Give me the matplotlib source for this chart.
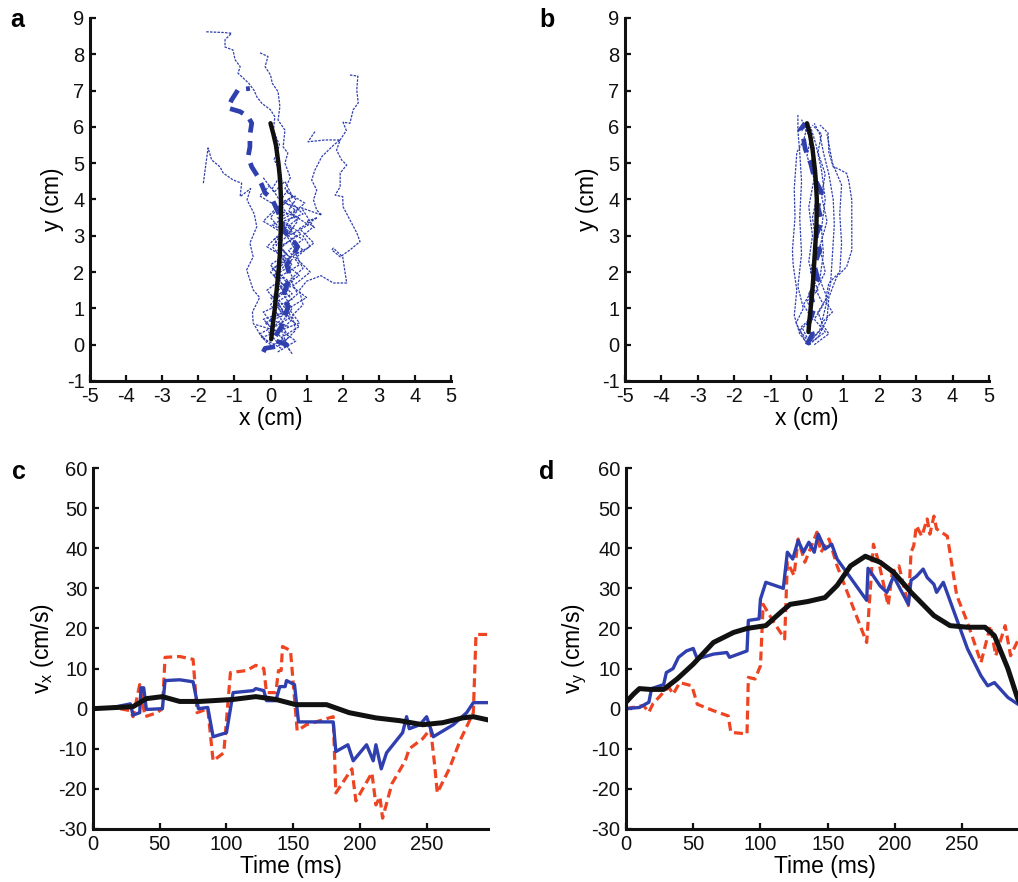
import matplotlib
matplotlib.use("Agg")
import matplotlib.pyplot as plt

plt.rcParams['font.family'] = ['Liberation Sans', 'DejaVu Sans']
plt.rcParams['mathtext.default'] = 'regular'
plt.rcParams['axes.unicode_minus'] = False

BLUE = '#2f3fae'
RED = '#ee4422'
BLACK = '#111111'

# ---- panel a: hand trajectories (x, y in cm) ----
a_trial_1 = [(-1.78, 8.62), (-1.3, 8.6), (-1.08, 8.58), (-1.26, 8.4), (-1.26, 8.2), (-1.04, 8.12),
             (-0.98, 7.85), (-0.84, 7.66), (-0.9, 7.48), (-0.76, 7.35), (-0.6, 7.2), (-0.45, 7.0),
             (-0.38, 6.83), (-0.24, 6.65), (0.0, 6.47), (0.12, 6.28), (0.08, 5.9), (0.25, 5.5),
             (0.1, 5.1), (0.3, 4.7), (0.05, 4.3), (0.3, 3.9), (0.0, 3.5), (0.35, 3.1), (0.05, 2.7),
             (0.4, 2.3), (0.1, 1.9), (0.35, 1.5), (0.0, 1.1), (0.3, 0.7), (-0.05, 0.35), (0.2, 0.05)]
a_trial_2 = [(-0.29, 8.04), (-0.07, 7.94), (-0.15, 7.66), (0.0, 7.43), (0.05, 7.2), (0.21, 6.97),
             (0.26, 6.56), (0.21, 6.19), (0.40, 5.91), (0.35, 5.45), (0.48, 5.28), (0.40, 5.0),
             (0.55, 4.6), (0.4, 4.3), (0.7, 4.0), (0.5, 3.7), (0.75, 3.4), (0.45, 3.0), (0.7, 2.6),
             (0.4, 2.2), (0.65, 1.8), (0.35, 1.4), (0.6, 1.0), (0.3, 0.6), (0.5, 0.2), (0.2, -0.05)]
a_trial_3 = [(2.2, 7.43), (2.42, 7.4), (2.39, 7.02), (2.43, 6.66), (2.29, 6.47), (2.2, 6.1),
             (2.01, 6.13), (2.1, 5.9), (1.93, 5.64), (1.83, 5.36), (1.97, 5.09), (2.11, 4.95),
             (1.93, 4.73), (1.93, 4.35), (1.79, 4.12), (2.0, 4.08), (2.01, 3.8), (2.2, 3.44),
             (2.39, 3.08), (2.48, 2.84), (2.2, 2.61), (1.93, 2.42), (1.7, 2.61), (1.74, 2.66),
             (2.0, 2.42), (2.11, 1.7), (1.74, 1.7), (1.4, 1.9), (1.0, 1.75), (0.8, 1.5), (0.9, 1.1),
             (0.6, 0.8), (0.7, 0.4), (0.4, 0.1), (0.55, -0.2)]
a_trial_4 = [(1.23, 5.87), (1.04, 5.59), (1.51, 5.64), (1.93, 5.64), (1.75, 5.5), (1.42, 5.18),
             (1.23, 4.81), (1.14, 4.54), (1.28, 4.26), (1.19, 3.99), (1.28, 3.71), (1.42, 3.57),
             (0.86, 3.77), (1.19, 3.25), (0.9, 3.0), (1.1, 2.7), (0.7, 2.5), (0.9, 2.1), (0.55, 1.8),
             (0.75, 1.4), (0.4, 1.1), (0.6, 0.7), (0.3, 0.4), (0.45, 0.0)]
a_trial_5 = [(-1.86, 4.45), (-1.73, 5.42), (-1.63, 5.09), (-1.4, 4.9), (-1.31, 4.73), (-1.04, 4.54),
             (-0.8, 4.45), (-0.84, 4.08), (-0.55, 4.3), (-0.65, 3.99), (-0.45, 3.6), (-0.38, 3.25),
             (-0.57, 2.8), (-0.48, 2.42), (-0.66, 2.06), (-0.48, 1.51), (-0.3, 1.3), (-0.5, 0.9),
             (-0.48, 0.6), (-0.3, 0.3), (-0.1, 0.05)]
a_trial_6 = [(0.0, 0.0), (-0.3, 0.3), (0.1, 0.5), (-0.2, 0.9), (0.25, 1.1), (-0.1, 1.5), (0.3, 1.8),
             (0.0, 2.2), (0.45, 2.5), (0.1, 2.9), (0.6, 3.2), (0.2, 3.5), (0.7, 3.7), (0.3, 4.0), (0.5, 4.3)]
a_trial_7 = [(0.2, -0.2), (0.7, 0.1), (0.3, 0.4), (0.8, 0.6), (0.5, 1.0), (1.0, 1.3), (0.6, 1.6),
             (1.1, 2.0), (0.7, 2.4), (1.2, 2.8), (0.8, 3.2), (1.3, 3.5), (1.0, 3.4), (1.25, 3.2)]
a_trial_8 = [(-0.4, 0.55), (0.1, 0.4), (-0.2, 0.7), (0.4, 0.9), (0.0, 1.3), (0.5, 1.5), (0.1, 1.9),
             (0.6, 2.2), (0.2, 2.6), (0.7, 3.0), (0.35, 3.4), (0.9, 3.6), (0.5, 4.0)]
a_trial_9 = [(0.6, -0.25), (0.3, 0.2), (0.8, 0.5), (0.4, 0.8), (0.2, 1.2), (0.6, 1.4), (0.3, 1.7),
             (0.0, 2.0), (0.4, 2.4), (-0.1, 2.7), (0.3, 3.1), (-0.2, 3.4), (0.2, 3.8), (-0.3, 4.1), (0.0, 4.4)]
a_trial_10 = [(-0.2, 4.6), (0.1, 4.2), (0.4, 4.5), (0.6, 4.1), (0.2, 3.7), (0.8, 3.5), (0.4, 3.2),
              (0.9, 2.9), (0.5, 2.6), (0.8, 2.2), (0.3, 1.9)]
a_trial_11 = [(-0.1, -0.1), (0.35, 0.15), (0.05, 0.45), (0.55, 0.75), (0.15, 1.05), (0.6, 1.25),
              (0.25, 1.6), (0.8, 1.9), (0.35, 2.3), (0.9, 2.6), (0.5, 3.0), (1.05, 3.3), (0.6, 3.6),
              (0.95, 3.9), (0.45, 4.2)]
a_trial_12 = [(0.3, -0.1), (-0.25, 0.2), (0.2, 0.35), (-0.15, 0.6), (0.35, 0.8), (0.1, 1.2),
              (0.55, 1.6), (0.2, 2.0), (0.6, 2.35), (0.15, 2.75), (0.55, 3.05), (0.05, 3.3),
              (0.5, 3.55), (0.25, 3.9), (0.7, 4.1)]
a_trial_13 = [(0.5, 0.5), (0.0, 0.7), (0.45, 0.95), (0.1, 1.4), (0.5, 1.75), (0.05, 2.1), (0.55, 2.4),
              (0.25, 2.7), (0.85, 3.05), (0.45, 3.35), (0.8, 3.75), (0.3, 3.95)]
a_highlight = [(-0.2, -0.2), (-0.15, -0.1), (0.45, 0.0), (0.07, 0.13), (0.3, 0.5), (0.49, 1.05),
               (0.35, 1.3), (0.4, 1.5), (0.54, 1.87), (0.45, 2.2), (0.65, 2.5), (0.75, 2.7),
               (0.68, 2.8), (0.4, 3.1), (0.22, 3.63), (0.03, 4.04), (-0.15, 4.18), (-0.24, 4.4),
               (-0.35, 4.63), (-0.52, 4.9), (-0.62, 5.18), (-0.57, 5.45), (-0.57, 5.78), (-0.52, 6.1),
               (-0.62, 6.28), (-0.84, 6.42), (-1.18, 6.52), (-1.08, 6.74), (-0.9, 7.02), (-0.57, 7.06)]
a_mean = [(0.02, 0.15), (0.07, 0.6), (0.12, 1.0), (0.17, 1.5), (0.22, 2.0), (0.26, 2.5), (0.28, 3.0),
          (0.29, 3.5), (0.29, 4.0), (0.27, 4.5), (0.22, 5.0), (0.15, 5.5), (0.08, 5.8), (0.0, 6.1)]

# ---- panel b ----
b_trial_1 = [(0.0, 0.05), (-0.2, 0.3), (-0.35, 0.8), (-0.28, 1.5), (-0.38, 2.2), (-0.4, 2.6),
             (-0.33, 3.5), (-0.35, 4.3), (-0.3, 5.0), (-0.28, 5.3), (-0.1, 5.6), (0.0, 6.0)]
b_trial_2 = [(0.05, 0.0), (0.3, 0.2), (0.55, 0.7), (0.6, 1.3), (0.75, 1.7), (0.82, 1.87), (1.09, 2.15),
             (1.23, 2.6), (1.23, 3.3), (1.23, 3.99), (1.15, 4.5), (1.09, 4.72), (0.85, 4.85),
             (0.72, 4.9), (0.6, 5.3), (0.58, 5.83), (0.36, 6.05)]
b_trial_3 = [(0.0, 0.0), (0.35, 0.4), (0.5, 1.0), (0.65, 1.7), (0.7, 2.5), (0.75, 3.3), (0.72, 4.0),
             (0.6, 4.7), (0.45, 5.3), (0.35, 5.8), (0.2, 6.1)]
b_trial_4 = [(-0.05, 0.1), (-0.3, 0.6), (-0.1, 1.0), (-0.25, 1.6), (-0.15, 2.5), (-0.2, 3.5),
             (-0.15, 4.5), (-0.2, 5.3), (-0.25, 5.9), (-0.25, 6.33)]
b_trial_5 = [(0.1, 0.1), (0.45, 0.5), (0.3, 0.9), (0.55, 1.3), (0.35, 1.8), (0.45, 2.5), (0.4, 3.2),
             (0.5, 4.0), (0.4, 4.8), (0.25, 5.5), (0.1, 6.0)]
b_trial_6 = [(0.0, 0.2), (-0.15, 0.5), (0.2, 0.8), (0.0, 1.2), (0.3, 1.5), (0.1, 2.0), (0.25, 2.8),
             (0.15, 3.5), (0.3, 4.2), (0.1, 4.9), (0.2, 5.4), (0.05, 5.8), (-0.15, 6.2)]
b_trial_7 = [(0.2, 0.0), (0.6, 0.3), (0.4, 0.6), (0.7, 0.9), (0.5, 1.2), (0.6, 1.7), (0.9, 2.0),
             (0.95, 2.8), (0.9, 3.6), (0.95, 4.4), (0.7, 5.0), (0.55, 5.8)]
b_trial_8 = [(0.1, 0.0), (-0.2, 0.4), (0.15, 0.7), (-0.1, 1.1), (0.2, 1.6), (0.05, 2.3), (0.15, 3.0),
             (0.05, 3.8), (0.2, 4.6), (0.0, 5.2), (0.1, 5.7), (-0.1, 6.0)]
b_trial_9 = [(0.15, 0.1), (0.5, 0.35), (0.2, 0.7), (0.45, 1.1), (0.25, 1.5), (0.5, 2.0), (0.35, 2.7),
             (0.55, 3.4), (0.4, 4.1), (0.5, 4.7), (0.3, 5.3), (0.4, 5.8), (0.15, 6.05)]
b_highlight = [(0.0, 0.0), (0.15, 0.3), (0.05, 0.6), (0.2, 1.0), (0.1, 1.4), (0.3, 1.8), (0.2, 2.2),
               (0.35, 2.6), (0.25, 3.0), (0.4, 3.4), (0.3, 3.8), (0.4, 4.2), (0.2, 4.6), (0.1, 5.0),
               (-0.05, 5.4), (-0.1, 5.7), (-0.2, 5.9), (-0.05, 6.1)]
b_mean = [(0.04, 0.35), (0.07, 0.7), (0.1, 1.0), (0.14, 1.4), (0.17, 1.8), (0.22, 2.6), (0.26, 3.3),
          (0.27, 4.0), (0.25, 4.4), (0.22, 4.8), (0.15, 5.4), (0.08, 5.8), (0.0, 6.1)]

# ---- panel c: v_x (cm/s) vs time (ms) ----
c_blue_t = [0, 15, 28, 30, 35, 36, 38, 40, 52, 54, 65, 75, 79, 86, 90, 95, 100, 105, 120, 122,
            128, 130, 137, 140, 144, 145, 151, 154, 180, 182, 191, 195, 205, 210, 212, 216, 220, 232, 235, 237,
            245, 250, 255, 270, 280, 285, 296]
c_blue_v = [0, 0.3, 1.2, -1.6, -1.0, 5.2, 5.2, -0.2, 0, 7, 7.2, 6.7, 0, 0.3, -7, -6.5, -6, 4, 4.5, 5,
            4.5, 2, 2, 5.5, 5.5, 7, 6, -3.3, -3.3, -10.7, -9, -13, -9, -13, -9, -15, -11, -6, -2, -5,
            -4, -2, -7, -4, -1, 1.5, 1.5]
c_red_t = [0, 15, 28, 30, 35, 39, 48, 52, 54, 65, 75, 78, 86, 90, 98, 103, 115, 122, 128, 130,
           137, 139, 141, 142, 148, 153, 160, 180, 182, 194, 197, 209, 212, 215, 217, 224, 234, 237, 247, 253,
           256, 258, 267, 275, 285, 287, 296]
c_red_v = [0, 0.3, -0.5, -2, 6, -2, -1, 0, 12.8, 13, 12.3, -1, 0, -13, -11, 9, 9.5, 10.8, 10, 4,
           4, 9.5, 9.5, 15.5, 14.5, -5.5, -4, -2, -21, -15, -23, -16, -24, -22, -27.3, -18.7, -13, -10, -7.5, -5,
           -14, -21, -15, -8, -1, 18.5, 18.5]
c_black_t = [0, 30, 40, 52, 65, 80, 105, 122, 137, 152, 175, 192, 212, 230, 247, 262, 277, 285, 296]
c_black_v = [0, 0.5, 2.5, 3, 1.8, 1.8, 2.3, 3, 2.3, 1, 1, -1, -2.3, -3, -4, -3.5, -2.3, -2, -2.8]

# ---- panel d: v_y (cm/s) vs time (ms) ----
d_blue_t = [0, 10, 17, 19, 28, 30, 35, 39, 45, 50, 53, 65, 75, 77, 90, 91, 99, 100, 104, 117,
            120, 124, 128, 132, 136, 140, 143, 148, 153, 157, 179, 180, 189, 194, 199, 204, 210, 212, 216, 221,
            224, 229, 231, 236, 254, 264, 269, 274, 284, 292, 296]
d_blue_v = [0, 0.3, 1.6, 5, 6, 9, 10, 12.8, 14.4, 15, 12.4, 13.6, 14, 12.8, 14.4, 22, 22.4, 27.3, 31.5, 30,
            39, 37.3, 41.9, 39, 41.5, 39, 43.5, 39.8, 41, 37.3, 27, 35, 30.6, 29, 33, 29.8, 26, 32, 33, 34.8,
            32.7, 31, 29, 31.5, 14.9, 8.2, 5.7, 6.5, 2.8, 1, 0.5]
d_red_t = [0, 13, 17, 20, 29, 32, 35, 40, 49, 53, 65, 76, 78, 90, 91, 96, 100, 102, 110, 118,
           120, 125, 128, 133, 138, 142, 145, 151, 157, 179, 184, 188, 195, 198, 203, 210, 212, 214, 216, 220,
           224, 226, 229, 231, 239, 246, 254, 264, 271, 275, 282, 286, 292, 296]
d_red_v = [0, 0.8, -0.9, 1.2, 4.5, 5.3, 3.6, 6.5, 5.7, 1.1, -0.5, -1.8, -5.9, -6.3, 7.8, 7.4, 10.7, 26, 21.5, 17.4,
           36.5, 33.2, 42.3, 36.5, 40.6, 44, 39, 42.3, 35.6, 16.5, 41, 36.5, 25.7, 34, 35.6, 25.7, 39, 40.6, 45.6, 43,
           47.3, 43.5, 48, 44.8, 43, 28.2, 21.5, 11.5, 20.7, 13.2, 20.7, 13.2, 17.4, 15]
d_black_t = [0, 5.5, 10, 18, 28, 38, 50, 65, 80, 90, 104, 115, 122, 135, 148, 157, 167, 178, 189, 199,
             212, 229, 241, 254, 267, 274, 284, 291, 296]
d_black_v = [1.6, 3.6, 5, 4.8, 4.8, 7.4, 11.1, 16.5, 19, 20, 20.7, 24, 26, 26.7, 27.7, 30.7, 35.6, 38, 36.5, 34,
             29, 23.2, 20.7, 20.3, 20.3, 18.2, 10, 2.8, -1]


def style_axes(ax):
    for side in ['top', 'right']:
        ax.spines[side].set_visible(False)
    for side in ['left', 'bottom']:
        ax.spines[side].set_linewidth(2.2)
        ax.spines[side].set_color(BLACK)
    ax.tick_params(direction='in', length=4, width=1.6, labelsize=14.5, colors=BLACK, pad=4)


def plot_xy(ax, trials, highlight, mean):
    for tr in trials:
        xs, ys = zip(*tr)
        ax.plot(xs, ys, color=BLUE, lw=0.9, ls=(0, (2, 1)))
    xs, ys = zip(*highlight)
    ax.plot(xs, ys, color=BLUE, lw=3.4, ls=(0, (3, 1.8)))
    xs, ys = zip(*mean)
    ax.plot(xs, ys, color=BLACK, lw=3.2, solid_capstyle='round')
    ax.set_xlim(-5, 5)
    ax.set_ylim(-1, 9)
    ax.set_xticks(range(-5, 6))
    ax.set_yticks(range(-1, 10))
    ax.set_xlabel('x (cm)', fontsize=16.5, labelpad=1)
    ax.set_ylabel('y (cm)', fontsize=16.5, labelpad=2)
    style_axes(ax)


def plot_v(ax, tb, vb, tr, vr, tk, vk, ylabel):
    ax.plot(tr, vr, color=RED, lw=2.3, ls=(0, (2.8, 1.5)))
    ax.plot(tb, vb, color=BLUE, lw=2.4)
    ax.plot(tk, vk, color=BLACK, lw=3.6)
    ax.set_xlim(0, 296)
    ax.set_ylim(-30, 60)
    ax.set_xticks(range(0, 251, 50))
    ax.set_yticks(range(-30, 61, 10))
    ax.set_xlabel('Time (ms)', fontsize=16.5, labelpad=1)
    ax.set_ylabel(ylabel, fontsize=16.5, labelpad=2)
    style_axes(ax)


W, H = 1018, 882
fig = plt.figure(figsize=(W / 100, H / 100), dpi=100)

ax_a = fig.add_axes([90 / W, 1 - 381 / H, 361 / W, 363 / H])
ax_b = fig.add_axes([625 / W, 1 - 381 / H, 364 / W, 363 / H])
ax_c = fig.add_axes([93 / W, 1 - 829 / H, 395 / W, 361 / H])
ax_d = fig.add_axes([626 / W, 1 - 829 / H, 398 / W, 361 / H])

plot_xy(ax_a, [a_trial_1, a_trial_2, a_trial_3, a_trial_4, a_trial_5, a_trial_6, a_trial_7,
               a_trial_8, a_trial_9, a_trial_10, a_trial_11, a_trial_12, a_trial_13], a_highlight, a_mean)
plot_xy(ax_b, [b_trial_1, b_trial_2, b_trial_3, b_trial_4, b_trial_5, b_trial_6, b_trial_7,
               b_trial_8, b_trial_9], b_highlight, b_mean)
plot_v(ax_c, c_blue_t, c_blue_v, c_red_t, c_red_v, c_black_t, c_black_v, 'v$_x$ (cm/s)')
plot_v(ax_d, d_blue_t, d_blue_v, d_red_t, d_red_v, d_black_t, d_black_v, 'v$_y$ (cm/s)')

for letter, x, y in [('a', 17, 20), ('b', 547, 20), ('c', 19, 472), ('d', 547, 472)]:
    fig.text(x / W, 1 - y / H, letter, fontsize=18, fontweight='bold', ha='center', va='center')

fig.savefig('out.png', dpi=100)
